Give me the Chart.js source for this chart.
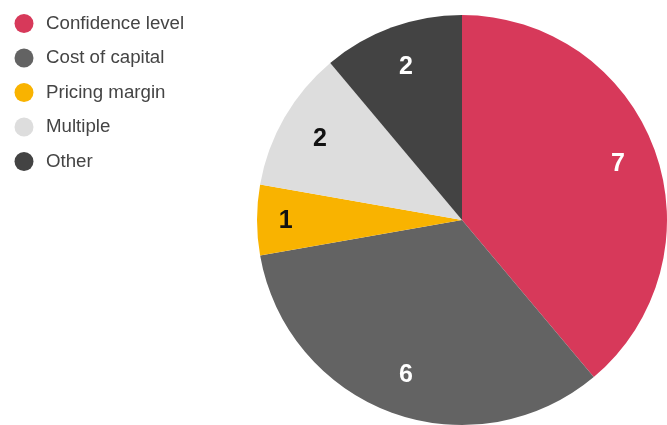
<!DOCTYPE html>
<html>
<head>
<meta charset="utf-8">
<script src="https://cdn.jsdelivr.net/npm/chart.js@4.4.1/dist/chart.umd.min.js"></script>
<style>
  html, body { margin: 0; padding: 0; background: #fff; overflow: hidden; }
  #pieChart { display: block; }
</style>
</head>
<body>
<canvas id="pieChart" width="667" height="427"></canvas>
<script>
const labels = ['Confidence level', 'Cost of capital', 'Pricing margin', 'Multiple', 'Other'];
const counts = [7, 6, 1, 2, 2];

const sliceColors = ['#D7395A', '#636363', '#F9B300', '#DDDDDD', '#434343'];
const valueColors = ['#ffffff', '#ffffff', '#111111', '#111111', '#ffffff'];
// how far out each number sits, as a share of the radius (narrow slice goes further out)
const valueDistance = [0.81, 0.8, 0.86, 0.8, 0.8];

// Numbers inside each slice, placed along the slice's middle angle
const sliceValues = {
    id: 'sliceValues',
    afterDatasetsDraw(chart) {
        const ctx = chart.ctx;
        const meta = chart.getDatasetMeta(0);
        ctx.save();
        ctx.font = 'bold 25px "Liberation Sans", Arial, sans-serif';
        ctx.textAlign = 'center';
        ctx.textBaseline = 'middle';
        meta.data.forEach((arc, i) => {
            const p = arc.getProps(['x', 'y', 'startAngle', 'endAngle', 'outerRadius']);
            const mid = (p.startAngle + p.endAngle) / 2;
            const r = p.outerRadius * valueDistance[i];
            ctx.fillStyle = valueColors[i];
            ctx.fillText(String(counts[i]), p.x + Math.cos(mid) * r, p.y + Math.sin(mid) * r + 1);
        });
        ctx.restore();
    }
};

// Legend in the top left corner with round markers
const cornerLegend = {
    id: 'cornerLegend',
    afterDraw(chart) {
        const ctx = chart.ctx;
        ctx.save();
        ctx.font = '18.7px "Liberation Sans", Arial, sans-serif';
        ctx.textAlign = 'left';
        ctx.textBaseline = 'alphabetic';
        labels.forEach((label, i) => {
            const cy = 22 + i * 34.5;
            ctx.beginPath();
            ctx.arc(24, cy + 1.5, 9.5, 0, Math.PI * 2);
            ctx.fillStyle = sliceColors[i];
            ctx.fill();
            ctx.fillStyle = '#444444';
            ctx.fillText(label, 46, cy + 6.5);
        });
        ctx.restore();
    }
};

const pieCtx = document.getElementById('pieChart').getContext('2d');
const pieChart = new Chart(pieCtx, {
    type: 'pie',
    data: {
        labels: labels,
        datasets: [{
            data: counts,
            backgroundColor: sliceColors,
            borderWidth: 0
        }]
    },
    options: {
        responsive: false,
        animation: false,
        layout: {
            padding: { left: 257, right: 0, top: 15, bottom: 2 }
        },
        plugins: {
            legend: { display: false },
            tooltip: { enabled: false }
        }
    },
    plugins: [sliceValues, cornerLegend]
});
</script>
</body>
</html>
